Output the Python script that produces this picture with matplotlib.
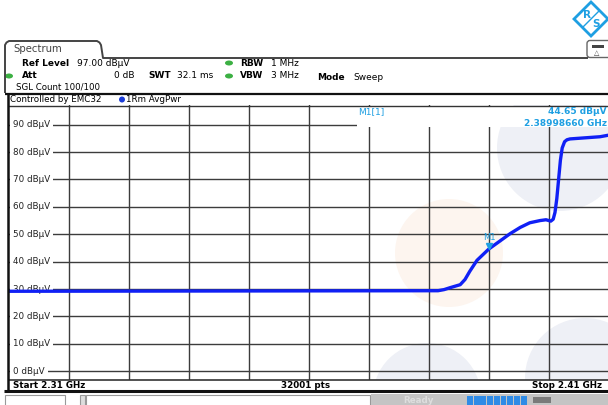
import matplotlib
matplotlib.use("Agg")
from matplotlib import pyplot as plt
from matplotlib.patches import Rectangle, Ellipse, Polygon, FancyBboxPatch

# trace (GHz / dBuV)
freq_ghz = [2.31, 2.3815, 2.3825, 2.3835, 2.3852, 2.3860, 2.3868, 2.3880,
            2.38998660, 2.3918, 2.3935, 2.3952, 2.3968, 2.3985, 2.3995,
            2.4003, 2.4007, 2.4010, 2.4013, 2.4016, 2.4019, 2.4022, 2.4026,
            2.4030, 2.4035, 2.4060, 2.4085, 2.41]
level_dbuv = [29.2, 29.4, 29.8, 30.5, 31.6, 33.5, 36.5, 40.5,
              44.65, 47.5, 50.2, 52.5, 54.2, 55.0, 55.3,
              54.8, 55.5, 58.0, 63.0, 70.0, 77.0, 81.5, 83.8,
              84.5, 84.8, 85.2, 85.6, 86.2]

marker_freq = 2.38998660
marker_level = 44.65

x_grid = [2.32, 2.33, 2.34, 2.35, 2.36, 2.37, 2.38, 2.39, 2.40]
y_grid = [0, 10, 20, 30, 40, 50, 60, 70, 80, 90]
y_labels = ["%d dBµV" % v for v in y_grid]

TRACE = "#1020f5"
CYAN = "#1e9fe2"
GRID = "#3c3c3c"
GREEN = "#3cb043"

W, H = 608, 405
fig = plt.figure(figsize=(W / 100, H / 100), dpi=100)
fig.patch.set_facecolor("white")

# plot area in pixels: x 9..609, y 105.5..379.5
px_l, px_r, px_t, px_b = 9, 609, 105.5, 379.5
ax = fig.add_axes([px_l / W, 1 - px_b / H, (px_r - px_l) / W, (px_b - px_t) / H], zorder=1)
ax.set_xlim(2.31, 2.41)
ax.set_ylim(-3, 97)
ax.axis("off")
ax.patch.set_visible(False)
gx = 6000.0          # px per GHz
gy = 274 / 100.0     # px per dB

# faint watermark circles
for cx, cy, r, col in [(560, 148, 63, "#eef0f6"), (449, 253, 54, "#fdf5ef"),
                       (427, 397, 54, "#eef0f6"), (585, 378, 60, "#eef0f6")]:
    f = 2.31 + (cx - px_l) / gx
    d = 97 - (cy - px_t) / gy
    ax.add_patch(Ellipse((f, d), 2 * r / gx, 2 * r / gy, facecolor=col, edgecolor="none", zorder=0))

for f in x_grid:
    ax.axvline(f, color=GRID, lw=1.0, zorder=1)
for v in y_grid:
    ax.axhline(v, color=GRID, lw=1.0, zorder=1)

for v, lab in zip(y_grid, y_labels):
    ax.text(2.31 + 4 / gx, v, lab, fontsize=6.3, va="center", ha="left", color="#222",
            bbox=dict(facecolor="white", edgecolor="none", pad=2.2), zorder=2)

ax.plot(freq_ghz, level_dbuv, color=TRACE, lw=2.4, zorder=4, solid_joinstyle="round")

# marker M1
ax.plot(marker_freq, marker_level + 1.2, marker="v", color=CYAN, ms=4.5, zorder=5)
ax.text(marker_freq, marker_level + 4.2, "M1", fontsize=6, color=CYAN, ha="center", va="center", zorder=5)

# overlay in pixel coordinates
ov = fig.add_axes([0, 0, 1, 1], zorder=3)
ov.set_xlim(0, W)
ov.set_ylim(H, 0)
ov.axis("off")
ov.patch.set_visible(False)


def line(xs, ys, lw=1.2, c="#444"):
    ov.plot(xs, ys, color=c, lw=lw, solid_capstyle="butt")


# marker info box
ov.add_patch(Rectangle((357, 106.5), 260, 20.5, facecolor="white", edgecolor="none"))
ov.text(358, 112, "M1[1]", fontsize=6.5, color=CYAN, ha="left", va="center")
ov.text(607, 112, "44.65 dBµV", fontsize=6.5, color=CYAN, ha="right", va="center", weight="bold")
ov.text(607, 124, "2.38998660 GHz", fontsize=6.5, color=CYAN, ha="right", va="center", weight="bold")

# tab and header frame
line([5, 5, 6.5, 9, 97, 99.5, 101, 103, 588], [93, 45, 42.5, 41, 41, 42.5, 45, 58, 58], lw=1.4, c="#444")
ov.add_patch(FancyBboxPatch((587, 40.5), 30, 17, boxstyle="round,pad=0,rounding_size=3",
                            facecolor="white", edgecolor="#666", lw=1))
ov.add_patch(Rectangle((592, 44.5), 12, 3.5, facecolor="#444", edgecolor="none"))
ov.text(597, 53, "△", fontsize=5, ha="center", va="center", color="#444")

# R&S logo
ov.add_patch(Polygon([(591, 2), (608, 19), (591, 36), (574, 19)], closed=True,
                     facecolor="none", edgecolor=CYAN, lw=2.0))
line([583, 599], [27, 11], lw=1.0, c=CYAN)
ov.text(587, 15, "R", fontsize=7.5, color=CYAN, ha="center", va="center", weight="bold")
ov.text(596, 24, "S", fontsize=7.5, color=CYAN, ha="center", va="center", weight="bold")

ov.text(13, 49, "Spectrum", fontsize=7.3, color="#444", ha="left", va="center")

hdr = 6.5
ov.text(22, 63, "Ref Level", fontsize=hdr, weight="bold", va="center")
ov.text(77, 63, "97.00 dBµV", fontsize=hdr, va="center")
ov.text(22, 76, "Att", fontsize=hdr, weight="bold", va="center")
ov.text(134, 76, "0 dB", fontsize=hdr, va="center", ha="right")
ov.text(148, 76, "SWT", fontsize=hdr, weight="bold", va="center")
ov.text(177, 76, "32.1 ms", fontsize=hdr, va="center")
ov.text(240, 63, "RBW", fontsize=hdr, weight="bold", va="center")
ov.text(271, 63, "1 MHz", fontsize=hdr, va="center")
ov.text(240, 76, "VBW", fontsize=hdr, weight="bold", va="center")
ov.text(271, 76, "3 MHz", fontsize=hdr, va="center")
ov.text(317, 77, "Mode", fontsize=hdr, weight="bold", va="center")
ov.text(353, 77, "Sweep", fontsize=hdr, va="center")
ov.text(16, 87, "SGL Count 100/100", fontsize=6.2, va="center")
for ex, ey in [(9, 76), (229, 63), (229, 76)]:
    ov.add_patch(Ellipse((ex, ey), 8, 5, facecolor=GREEN, edgecolor="none"))

ov.text(10, 99, "Controlled by EMC32", fontsize=6.3, va="center")
ov.add_patch(Ellipse((122, 99.5), 6, 6, facecolor="#1a3cd8", edgecolor="none"))
ov.text(126, 99, "1Rm AvgPwr", fontsize=6.3, va="center")

# plot frame
line([5, 608], [93.5, 93.5], lw=1.6, c="#111")
line([8, 608], [105.5, 105.5], lw=1.0, c="#333")
line([8, 608], [380, 380], lw=1.2, c="#333")
line([4, 608], [391, 391], lw=2.2, c="#111")
line([7.5, 7.5], [93, 391], lw=1.8, c="#111")

# footer
ov.text(13, 385.5, "Start 2.31 GHz", fontsize=6.3, weight="bold", va="center")
ov.text(306, 385.5, "32001 pts", fontsize=6.3, weight="bold", va="center", ha="center")
ov.text(602, 385.5, "Stop 2.41 GHz", fontsize=6.3, weight="bold", va="center", ha="right")

# status bar
ov.add_patch(Rectangle((5, 394.5), 60, 14, facecolor="white", edgecolor="#999", lw=0.8))
ov.add_patch(Rectangle((80, 394.5), 5, 14, facecolor="#ddd", edgecolor="#999", lw=0.8))
ov.add_patch(Rectangle((86, 394.5), 284, 14, facecolor="white", edgecolor="#999", lw=0.8))
ov.add_patch(Rectangle((371, 394), 240, 14, facecolor="#c4c4c4", edgecolor="none"))
ov.text(418, 400.5, "Ready", fontsize=6.3, weight="bold", color="#dedede", ha="center", va="center")
for i in range(9):
    ov.add_patch(Rectangle((467 + i * 6.7, 396), 5.9, 9, facecolor="#2f8be6", edgecolor="none"))
ov.add_patch(Rectangle((533, 397), 18, 6, facecolor="#7a7a7a", edgecolor="none"))

fig.savefig("out.png", dpi=100)
